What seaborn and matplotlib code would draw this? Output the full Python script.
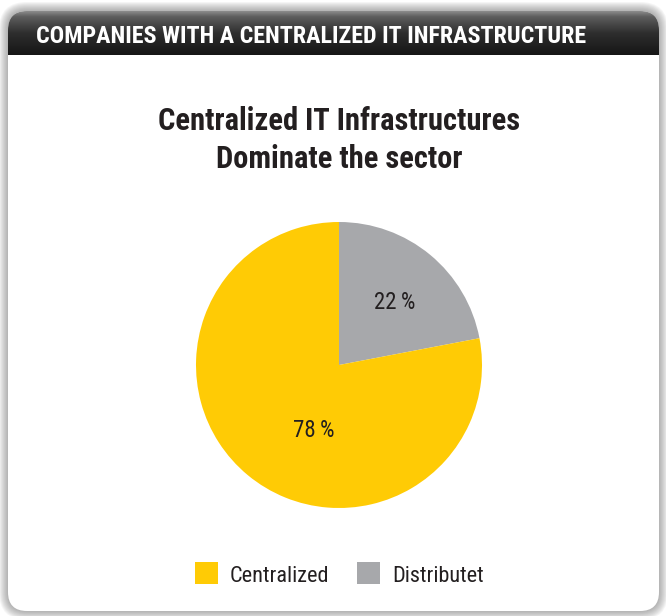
import numpy as np
import matplotlib
matplotlib.use("Agg")
import matplotlib.pyplot as plt
from matplotlib.patches import FancyBboxPatch, Rectangle
import seaborn as sns

# Data
categories = ["Distributet", "Centralized"]
shares = [22, 78]
colors = {"Centralized": "#FFCB05", "Distributet": "#A7A8AB"}

header_text = "COMPANIES WITH A CENTRALIZED IT INFRASTRUCTURE"
title_lines = ["Centralized IT Infrastructures", "Dominate the sector"]

sns.set_theme(style="white")
NARROW = ["Roboto Condensed", "DejaVu Sans"]
plt.rcParams["font.family"] = NARROW

W, H = 666, 616
fig = plt.figure(figsize=(W / 100, H / 100), dpi=100)
fig.patch.set_facecolor("white")

# Background layer in pixel coordinates
bg = fig.add_axes([0, 0, 1, 1])
bg.set_xlim(0, W)
bg.set_ylim(H, 0)
bg.axis("off")

cx0, cy0, cx1, cy1, rad = 8, 11, 659, 611, 19

# soft shadow around the card
for g in range(9, 0, -1):
    sh = FancyBboxPatch((cx0 - g, cy0 - g), (cx1 - cx0) + 2 * g, (cy1 - cy0) + 2 * g,
                        boxstyle=f"round,pad=0,rounding_size={rad + g}",
                        fc="#5a5a5a", ec="none", alpha=0.06, zorder=1)
    bg.add_patch(sh)

card = FancyBboxPatch((cx0, cy0), cx1 - cx0, cy1 - cy0,
                      boxstyle=f"round,pad=0,rounding_size={rad}",
                      fc="white", ec="none", zorder=2)
bg.add_patch(card)

# dark gradient header clipped to the card shape
grad = np.linspace(0, 1, 64).reshape(-1, 1)
cmap = matplotlib.colors.LinearSegmentedColormap.from_list(
    "hdr", [(0, "#8a8a8a"), (0.12, "#5e5e5e"), (0.5, "#2e2e2e"), (1, "#161616")])
im = bg.imshow(grad, extent=(cx0, cx1, 55, cy0), cmap=cmap, aspect="auto", zorder=3,
               interpolation="bilinear")
im.set_clip_path(card)

bg.text(36, 43, header_text, color="white", fontsize=17.3, fontweight="bold",
        va="baseline", ha="left", family=NARROW, zorder=4)

bg.text(339, 130, title_lines[0], color="#231f20", fontsize=22, fontweight="bold",
        ha="center", va="baseline", family=NARROW, zorder=4)
bg.text(339, 168, title_lines[1], color="#231f20", fontsize=22, fontweight="bold",
        ha="center", va="baseline", family=NARROW, zorder=4)

# Pie
pcx, pcy, pr = 339, 365, 143
pax = fig.add_axes([(pcx - pr) / W, 1 - (pcy + pr) / H, 2 * pr / W, 2 * pr / H])
wedges, _ = pax.pie(shares, colors=[colors[c] for c in categories], startangle=90,
                    counterclock=False, radius=1.0, wedgeprops=dict(linewidth=0))
pax.set_xlim(-1, 1)
pax.set_ylim(-1, 1)
pax.set_aspect("equal")
pax.axis("off")

label_pos = {"Distributet": (0.392, 0.392), "Centralized": (-0.175, -0.503)}
for c, v in zip(categories, shares):
    x, y = label_pos[c]
    pax.text(x, y, f"{v}\u2009%", ha="center", va="baseline", fontsize=16.5,
             color="#231f20", family=NARROW)

# Legend
leg_items = [(195, "Centralized"), (357, "Distributet")]
for x, name in leg_items:
    bg.add_patch(Rectangle((x, 562), 23, 22, fc=colors[name], ec="none", zorder=4))
    bg.text(x + 35, 582, name, fontsize=16, color="#231f20", va="baseline", ha="left",
            family=NARROW, zorder=4)

fig.savefig("out.png", dpi=100, facecolor="white")
